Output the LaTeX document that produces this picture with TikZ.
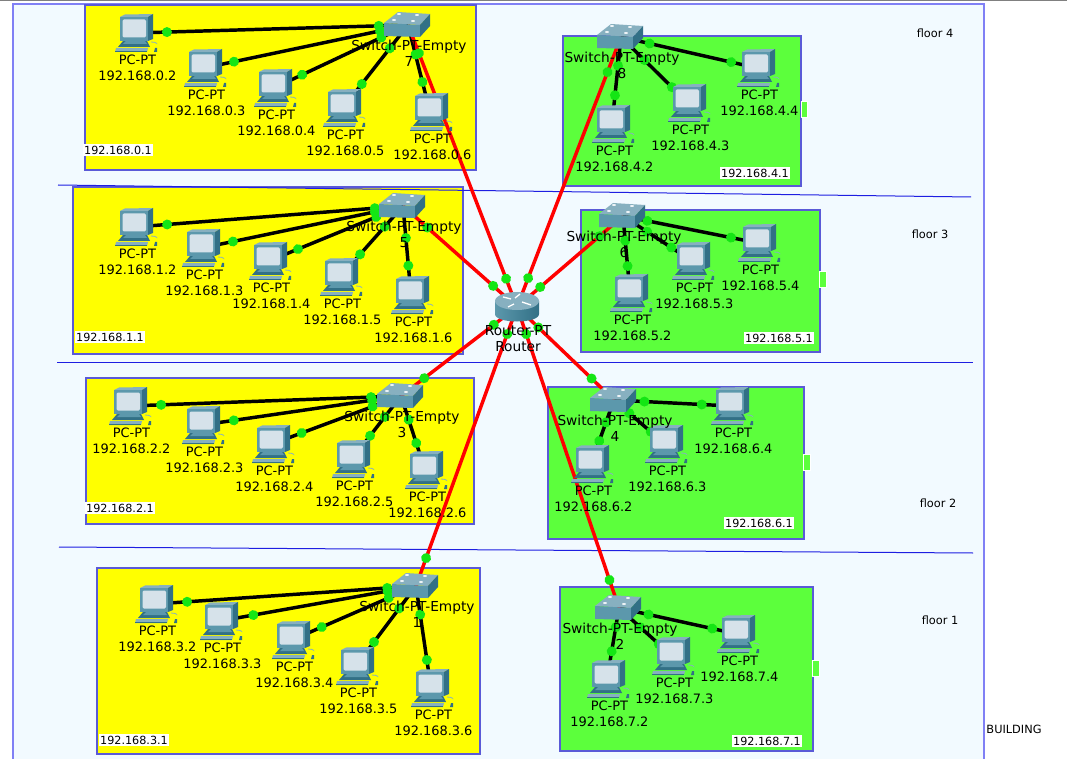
\documentclass[tikz,border=0pt]{standalone}
\usepackage{fontspec}
\setmainfont{DejaVu Sans}
\usepackage{xcolor}
\definecolor{buildfill}{RGB}{242,250,255}
\definecolor{buildline}{RGB}{128,128,245}
\definecolor{roomline}{RGB}{90,90,215}
\definecolor{roomyellow}{RGB}{255,255,0}
\definecolor{roomgreen}{RGB}{92,255,60}
\definecolor{portgreen}{RGB}{20,230,20}
\definecolor{floorblue}{RGB}{30,30,225}
\definecolor{iconmid}{RGB}{92,152,172}
\definecolor{iconlight}{RGB}{135,176,192}
\definecolor{icondark}{RGB}{50,112,134}
\definecolor{iconscreen}{RGB}{214,226,234}
\usepackage{tikz}
\usetikzlibrary{positioning, decorations.markings}
\pgfdeclarelayer{back}
\pgfdeclarelayer{wires}
\pgfsetlayers{back,wires,main}
\tikzset{
  building/.style={draw=buildline, fill=buildfill, line width=1.5pt},
  roomA/.style={draw=roomline, fill=roomyellow, line width=1pt},
  roomB/.style={draw=roomline, fill=roomgreen, line width=1pt},
  floorline/.style={draw=floorblue, line width=0.75pt},
  nub/.style={fill=roomgreen, draw=white, line width=0.75pt},
  ports/.style 2 args={
    postaction={decorate, decoration={markings,
      mark=at position #1 with {\fill [portgreen] (0,0) circle (5);},
      mark=at position #2 with {\fill [portgreen] (0,0) circle (5);}}}
  },
  utp/.style={line width=2.6pt, draw=black},
  uplink/.style={line width=2.6pt, draw=red},
  pc/.style={
    inner sep=0pt, minimum width=33pt, minimum height=31.5pt,
    path picture={\pic at (path picture bounding box.center) {pcicon};}
  },
  switchbox/.style={
    inner sep=0pt, minimum width=37.5pt, minimum height=20.25pt,
    path picture={\pic at (path picture bounding box.center) {switchicon};}
  },
  routerbox/.style={
    inner sep=0pt, minimum width=36pt, minimum height=25.5pt,
    path picture={\pic at (path picture bounding box.center) {routericon};}
  },
  devtext/.style={
    align=center, inner sep=0pt, xshift=1.8pt,
    font=\fontsize{9.7}{12}\selectfont
  },
  swtext/.style={
    align=center, inner sep=0pt, xshift=0.75pt,
    font=\fontsize{10.3}{12}\selectfont
  },
  nettext/.style={
    fill=white, inner sep=1pt, font=\fontsize{8.4}{9}\selectfont
  },
  floortext/.style={inner sep=0pt, font=\fontsize{8.5}{10}\selectfont},
  pics/pcicon/.style={code={
    \fill [icondark] (-12,8) -- (12,8) -- (15,14) -- (-17,14) -- cycle;
    \fill [iconmid] (-9,8) -- (10,8) -- (12,11) -- (-12,11) -- cycle;
    \fill [iconlight] (-19,15) -- (13,15) -- (12,19) -- (-20,19) -- cycle;
    \fill [icondark] (-20,18) -- (12,18) -- (12,19) -- (-20,19) -- cycle;
    \draw [iconlight, line width=0.6pt] (16,9) .. controls (22,9) and (24,11) .. (23,15);
    \fill [icondark] (20,15) -- (25,15) -- (24,19) -- (19,19) -- cycle;
    \fill [iconlight] (-15,-16) -- (-10,-18.5) -- (18,-19) -- (13,-16) -- cycle;
    \fill [icondark] (13,-16) -- (18,-19) -- (18,6) -- (13,8) -- cycle;
    \fill [iconmid] (-15,-16) rectangle (13,8);
    \fill [iconscreen, rounded corners=1pt] (-12.5,-13.5) rectangle (11,4.5);
  }},
  pics/switchicon/.style={code={
    \fill [iconlight] (-24,-2) -- (-10,-13) -- (22,-11) -- (12,0) -- cycle;
    \fill [iconmid] (-24,-2) -- (12,0) -- (12,12) -- (-24,11) -- cycle;
    \fill [icondark] (12,0) -- (22,-11) -- (22,1) -- (12,12) -- cycle;
    \fill [white!85!iconlight] (-9,-11) ellipse [x radius=2, y radius=1];
    \fill [white!85!iconlight] (9,-10) ellipse [x radius=2, y radius=1];
    \fill [white!85!iconlight] (-14,-5) ellipse [x radius=2, y radius=1];
    \fill [white!85!iconlight] (5,-4) ellipse [x radius=2, y radius=1];
  }},
  pics/routericon/.style={code={
    \shade [left color=iconmid, middle color=white!90!iconmid, right color=icondark]
      (-22,-6) -- (-22,7) .. controls (-22,17) and (22,17) .. (22,7) -- (22,-6) -- cycle;
    \fill [iconlight] (0,-6) ellipse [x radius=22, y radius=9];
    \draw [white, line width=1pt] (-14,-10) -- (-6,-8) (3,-13) -- (-2,-9)
      (-9,0) -- (-3,-3) (14,-2) -- (5,-5);
  }},
}
\begin{document}
\begin{tikzpicture}[x=0.75pt, y=-0.75pt]
  \useasboundingbox (0,0) rectangle (1067,759);

  \begin{pgfonlayer}{back}
    \fill [gray] (0,0) rectangle (1067,1);
    \draw [building] (13,4) rectangle (984,770);
    \draw [roomA] (85,5) rectangle (476,170);
    \draw [roomA] (73,187) rectangle (463,354);
    \draw [roomA] (86,378) rectangle (474,524);
    \draw [roomA] (97,568) rectangle (480,754);
    \draw [roomB] (563,36) rectangle (801,186);
    \draw [roomB] (581,210) rectangle (820,352);
    \draw [roomB] (548,387) rectangle (804,539);
    \draw [roomB] (560,587) rectangle (813,751);
    \draw [floorline] (58,185) -- (971,197);
    \draw [floorline] (57,362) -- (973,362);
    \draw [floorline] (59,547) -- (973,553);
    \draw [nub] (801,102) rectangle (807,118);
    \draw [nub] (819,272) rectangle (826,288);
    \draw [nub] (803,454) rectangle (810,470);
    \draw [nub] (812,660) rectangle (819,676);
  \end{pgfonlayer}

  % router
  \node (router) [routerbox] at (517,307) {};
  \node (routert) [swtext, below=0.5pt of router] {Router-PT\\Router};

  % switches
  \node (sw7) [switchbox] at (408,25) {};
  \node (sw8) [switchbox] at (621,37) {};
  \node (sw5) [switchbox] at (403,206) {};
  \node (sw6) [switchbox] at (623,216) {};
  \node (sw3) [switchbox] at (401,396) {};
  \node (sw4) [switchbox] at (614,400) {};
  \node (sw1) [switchbox] at (416,586) {};
  \node (sw2) [switchbox] at (619,608) {};

  % floor 4
  \node (pc02) [pc] at (135,33) {};
  \node (pc03) [pc] at (204,68) {};
  \node (pc04) [pc] at (274,88) {};
  \node (pc05) [pc] at (343,108) {};
  \node (pc06) [pc] at (430,112) {};
  \node (pc42) [pc] at (612,124) {};
  \node (pc43) [pc] at (688,103) {};
  \node (pc44) [pc] at (757,68) {};
  \node (pc02t) [devtext, below=0.2pt of pc02] {PC-PT\\192.168.0.2};
  \node (pc03t) [devtext, below=0.2pt of pc03] {PC-PT\\192.168.0.3};
  \node (pc04t) [devtext, below=0.2pt of pc04] {PC-PT\\192.168.0.4};
  \node (pc05t) [devtext, below=0.2pt of pc05] {PC-PT\\192.168.0.5};
  \node (pc06t) [devtext, below=0.2pt of pc06] {PC-PT\\192.168.0.6};
  \node (pc42t) [devtext, below=0.2pt of pc42] {PC-PT\\192.168.4.2};
  \node (pc43t) [devtext, below=0.2pt of pc43] {PC-PT\\192.168.4.3};
  \node (pc44t) [devtext, below=0.2pt of pc44] {PC-PT\\192.168.4.4};

  % floor 3
  \node (pc12) [pc] at (135,227) {};
  \node (pc13) [pc] at (202,248) {};
  \node (pc14) [pc] at (269,261) {};
  \node (pc15) [pc] at (340,277) {};
  \node (pc16) [pc] at (411,295) {};
  \node (pc52) [pc] at (630,293) {};
  \node (pc53) [pc] at (692,261) {};
  \node (pc54) [pc] at (758,243) {};
  \node (pc12t) [devtext, below=0.2pt of pc12] {PC-PT\\192.168.1.2};
  \node (pc13t) [devtext, below=0.2pt of pc13] {PC-PT\\192.168.1.3};
  \node (pc14t) [devtext, below=0.2pt of pc14] {PC-PT\\192.168.1.4};
  \node (pc15t) [devtext, below=0.2pt of pc15] {PC-PT\\192.168.1.5};
  \node (pc16t) [devtext, below=0.2pt of pc16] {PC-PT\\192.168.1.6};
  \node (pc52t) [devtext, below=0.2pt of pc52] {PC-PT\\192.168.5.2};
  \node (pc53t) [devtext, below=0.2pt of pc53] {PC-PT\\192.168.5.3};
  \node (pc54t) [devtext, below=0.2pt of pc54] {PC-PT\\192.168.5.4};

  % floor 2
  \node (pc22) [pc] at (129,406) {};
  \node (pc23) [pc] at (202,425) {};
  \node (pc24) [pc] at (272,444) {};
  \node (pc25) [pc] at (352,459) {};
  \node (pc26) [pc] at (425,470) {};
  \node (pc62) [pc] at (591,464) {};
  \node (pc63) [pc] at (665,444) {};
  \node (pc64) [pc] at (731,406) {};
  \node (pc22t) [devtext, below=0.2pt of pc22] {PC-PT\\192.168.2.2};
  \node (pc23t) [devtext, below=0.2pt of pc23] {PC-PT\\192.168.2.3};
  \node (pc24t) [devtext, below=0.2pt of pc24] {PC-PT\\192.168.2.4};
  \node (pc25t) [devtext, below=0.2pt of pc25] {PC-PT\\192.168.2.5};
  \node (pc26t) [devtext, below=0.2pt of pc26] {PC-PT\\192.168.2.6};
  \node (pc62t) [devtext, below=0.2pt of pc62] {PC-PT\\192.168.6.2};
  \node (pc63t) [devtext, below=0.2pt of pc63] {PC-PT\\192.168.6.3};
  \node (pc64t) [devtext, below=0.2pt of pc64] {PC-PT\\192.168.6.4};

  % floor 1
  \node (pc32) [pc] at (155,604) {};
  \node (pc33) [pc] at (220,621) {};
  \node (pc34) [pc] at (292,640) {};
  \node (pc35) [pc] at (356,666) {};
  \node (pc36) [pc] at (431,688) {};
  \node (pc72) [pc] at (607,679) {};
  \node (pc73) [pc] at (672,656) {};
  \node (pc74) [pc] at (737,634) {};
  \node (pc32t) [devtext, below=0.2pt of pc32] {PC-PT\\192.168.3.2};
  \node (pc33t) [devtext, below=0.2pt of pc33] {PC-PT\\192.168.3.3};
  \node (pc34t) [devtext, below=0.2pt of pc34] {PC-PT\\192.168.3.4};
  \node (pc35t) [devtext, below=0.2pt of pc35] {PC-PT\\192.168.3.5};
  \node (pc36t) [devtext, below=0.2pt of pc36] {PC-PT\\192.168.3.6};
  \node (pc72t) [devtext, below=0.2pt of pc72] {PC-PT\\192.168.7.2};
  \node (pc73t) [devtext, below=0.2pt of pc73] {PC-PT\\192.168.7.3};
  \node (pc74t) [devtext, below=0.2pt of pc74] {PC-PT\\192.168.7.4};

  % switch names
  \node (sw7t) [swtext, below=0.6pt of sw7] {Switch-PT-Empty\\7};
  \node (sw8t) [swtext, below=0.6pt of sw8] {Switch-PT-Empty\\8};
  \node (sw5t) [swtext, below=0.6pt of sw5] {Switch-PT-Empty\\5};
  \node (sw6t) [swtext, below=0.6pt of sw6] {Switch-PT-Empty\\6};
  \node (sw3t) [swtext, below=0.6pt of sw3] {Switch-PT-Empty\\3};
  \node (sw4t) [swtext, below=0.6pt of sw4] {Switch-PT-Empty\\4};
  \node (sw1t) [swtext, below=0.6pt of sw1] {Switch-PT-Empty\\1};
  \node (sw2t) [swtext, below=0.6pt of sw2] {Switch-PT-Empty\\2};

  % network and floor names
  \node (net0) [nettext] at (118,150) {192.168.0.1};
  \node (net1) [nettext] at (110,337) {192.168.1.1};
  \node (net2) [nettext] at (120,508) {192.168.2.1};
  \node (net3) [nettext] at (134,740) {192.168.3.1};
  \node (net4) [nettext] at (755,173) {192.168.4.1};
  \node (net5) [nettext] at (779,338) {192.168.5.1};
  \node (net6) [nettext] at (759,523) {192.168.6.1};
  \node (net7) [nettext] at (767,741) {192.168.7.1};
  \node (floor4) [floortext] at (935,33) {floor 4};
  \node (floor3) [floortext] at (930,234) {floor 3};
  \node (floor2) [floortext] at (938,503) {floor 2};
  \node (floor1) [floortext] at (940,620) {floor 1};
  \node (bld) [floortext] at (1014,729) {BUILDING};

  \begin{pgfonlayer}{wires}
    \draw [utp, ports={.117}{.893}] (pc02.center) -- (sw7.center);
    \draw [utp, ports={.147}{.863}] (pc03.center) -- (sw7.center);
    \draw [utp, ports={.21}{.80}]   (pc04.center) -- (sw7.center);
    \draw [utp, ports={.29}{.72}]   (pc05.center) -- (sw7.center);
    \draw [utp, ports={.345}{.66}]  (pc06.center) -- (sw7.center);
    \draw [utp, ports={.33}{.67}]   (pc42.center) -- (sw8.center);
    \draw [utp, ports={.24}{.65}]   (pc43.center) -- (sw8.center);
    \draw [utp, ports={.19}{.79}]   (pc44.center) -- (sw8.center);

    \draw [utp, ports={.12}{.895}]  (pc12.center) -- (sw5.center);
    \draw [utp, ports={.154}{.86}]  (pc13.center) -- (sw5.center);
    \draw [utp, ports={.216}{.80}]  (pc14.center) -- (sw5.center);
    \draw [utp, ports={.32}{.71}]   (pc15.center) -- (sw5.center);
    \draw [utp, ports={.33}{.64}]   (pc16.center) -- (sw5.center);
    \draw [utp, ports={.35}{.68}]   (pc52.center) -- (sw6.center);
    \draw [utp, ports={.30}{.65}]   (pc53.center) -- (sw6.center);
    \draw [utp, ports={.2}{.82}]    (pc54.center) -- (sw6.center);

    \draw [utp, ports={.118}{.89}]  (pc22.center) -- (sw3.center);
    \draw [utp, ports={.16}{.855}]  (pc23.center) -- (sw3.center);
    \draw [utp, ports={.23}{.78}]   (pc24.center) -- (sw3.center);
    \draw [utp, ports={.37}{.67}]   (pc25.center) -- (sw3.center);
    \draw [utp, ports={.365}{.68}]  (pc26.center) -- (sw3.center);
    \draw [utp, ports={.36}{.65}]   (pc62.center) -- (sw4.center);
    \draw [utp, ports={.28}{.70}]   (pc63.center) -- (sw4.center);
    \draw [utp, ports={.25}{.74}]   (pc64.center) -- (sw4.center);

    \draw [utp, ports={.123}{.89}]  (pc32.center) -- (sw1.center);
    \draw [utp, ports={.17}{.855}]  (pc33.center) -- (sw1.center);
    \draw [utp, ports={.24}{.78}]   (pc34.center) -- (sw1.center);
    \draw [utp, ports={.30}{.72}]   (pc35.center) -- (sw1.center);
    \draw [utp, ports={.275}{.72}]  (pc36.center) -- (sw1.center);
    \draw [utp, ports={.39}{.73}]   (pc72.center) -- (sw2.center);
    \draw [utp, ports={.25}{.60}]   (pc73.center) -- (sw2.center);
    \draw [utp, ports={.21}{.75}]   (pc74.center) -- (sw2.center);

    \draw [uplink, ports={.10}{.90}]  (router.center) -- (sw7.center);
    \draw [uplink, ports={.107}{.87}] (router.center) -- (sw8.center);
    \draw [uplink, ports={.21}{.79}]  (router.center) -- (sw5.center);
    \draw [uplink, ports={.22}{.78}]  (router.center) -- (sw6.center);
    \draw [uplink, ports={.20}{.80}]  (router.center) -- (sw3.center);
    \draw [uplink, ports={.22}{.77}]  (router.center) -- (sw4.center);
    \draw [uplink, ports={.097}{.90}] (router.center) -- (sw1.center);
    \draw [uplink, ports={.09}{.907}] (router.center) -- (sw2.center);
  \end{pgfonlayer}
\end{tikzpicture}
\end{document}
